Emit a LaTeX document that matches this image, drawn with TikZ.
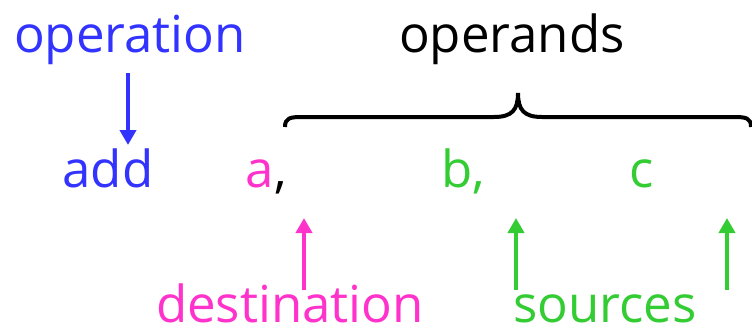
\documentclass[tikz,border=0pt]{standalone}
\usepackage{fontspec}
\setmainfont{Open Sans}
\usepackage{tikz}
\usetikzlibrary{arrows.meta, positioning}
\definecolor{opblue}{HTML}{3333FF}
\definecolor{dstpink}{HTML}{FF33CC}
\definecolor{srcgreen}{HTML}{33CC33}

\begin{document}
\begin{tikzpicture}[x=1pt, y=-1pt,
        word/.style={inner sep=0pt, anchor=base, font=\fontsize{51pt}{60pt}\selectfont},
        arr/.style={-{Triangle[width=16pt, length=15pt]}, line width=4pt}]
            \useasboundingbox (0,0) rectangle (752,327);
            \node[word, opblue] (operation) at (130,52) {operation};
            \node[word] (operands) at (512,52) {operands};
            \node[word, opblue] (add) at (108,187) {add};
            \node[word, dstpink] (dst) at (260,187) {a};
            \node[word, anchor=base west] (comma) at (dst.base east) {,};
            \node[word, srcgreen] (srcb) at (463,187) {b,};
            \node[word, srcgreen] (srcc) at (642,187) {c};
            \node[word, dstpink] (destination) at (290,322) {destination};
            \node[word, srcgreen] (sources) at (605,322) {sources};
            % brace over the operands
            \draw[line width=4pt] (285,127) .. controls (285,118) and (290,117) .. (302,117) -- (494,117)
                .. controls (512,117) and (518,110) .. (518,93)
                .. controls (518,110) and (524,117) .. (542,117) -- (734,117)
                .. controls (746,117) and (751,118) .. (751,127);
            \coordinate (optip) at (128,145);
            \coordinate (dtip) at (304,218);
            \coordinate (btip) at (516,218);
            \coordinate (ctip) at (727,218);
            \draw[arr, opblue, shorten <=9pt] (operation.south -| optip) -- (optip);
            \draw[arr, dstpink, shorten <=-7pt] (destination.north -| dtip) -- (dtip);
            \draw[arr, srcgreen, shorten <=4pt] (sources.north -| btip) -- (btip);
            \draw[arr, srcgreen, shorten <=4pt] (sources.north -| ctip) -- (ctip);
\end{tikzpicture}
\end{document}
